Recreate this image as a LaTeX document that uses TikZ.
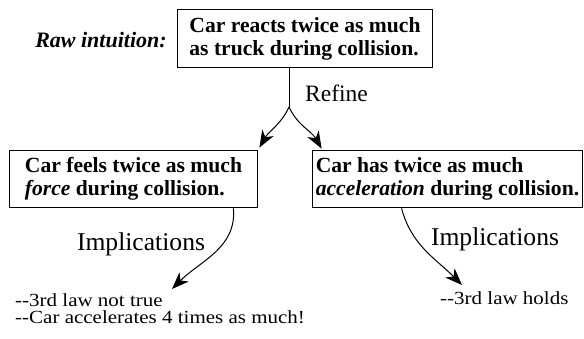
\documentclass[tikz,border=0pt]{standalone}
\usepackage{fontspec}
\setmainfont{Liberation Serif}
\newfontfamily\notefont[FakeStretch=1.135]{Liberation Serif}
\usetikzlibrary{arrows.meta}
\begin{document}
\begin{tikzpicture}[x=1pt,y=-1pt,
  box/.style={draw, line width=1.8pt, align=left, inner sep=0pt,
    font=\rmfamily\fontsize{21.6}{23}\selectfont\bfseries},
  rawlbl/.style={font=\rmfamily\fontsize{22}{24}\selectfont\bfseries\itshape, inner sep=0pt},
  biglbl/.style={font=\rmfamily\fontsize{25.6}{28}\selectfont, inner sep=0pt},
  reflbl/.style={font=\rmfamily\fontsize{23.5}{26}\selectfont, inner sep=0pt},
  note/.style={font=\notefont\fontsize{18.5}{17}\selectfont, inner sep=0pt, align=left},
  link/.style={line width=1pt},
  arr/.style={line width=1pt, -{Stealth[length=17pt,width=13pt,inset=5pt]}}
]
\useasboundingbox (0,0) rectangle (584,339);
\node[box, minimum width=255pt, minimum height=58pt] (top) at (305,38.5)
  {Car reacts twice as much\\as truck during collision.};
\node[rawlbl] (raw) at (101,40) {Raw intuition:};
\node[box, minimum width=248pt, minimum height=57pt] (left) at (133.5,179)
  {Car feels twice as much\\\textit{force} during collision.};
\node[box, minimum width=270pt, minimum height=57pt] (right) at (447.5,179)
  {Car has twice as much\\\textit{acceleration} during collision.};

\coordinate (split) at (289,107);
\draw[link] (top.south -| split) -- (split);
\node[reflbl, anchor=west] (refine) at (305,93) {Refine};
\draw[arr] (split) to[out=-115,in=60] ([xshift=1pt,yshift=2pt]left.north east);
\draw[arr] (split) to[out=-65,in=120] ([xshift=10pt,yshift=1pt]right.north west);

\node[biglbl] (impl1) at (141,244) {Implications};
\node[biglbl] (impl2) at (495,239) {Implications};
\node[note, anchor=west] (res1) at (15,308.5) {-{}-3rd law not true\\-{}-Car accelerates 4 times as much!};
\node[note, anchor=west] (res2) at (440,298) {-{}-3rd law holds};

\coordinate (tip1) at (172,289);
\coordinate (tip2) at (462,285);
\draw[arr] ([xshift=-25pt]left.south east) to[out=-85,in=45] (tip1);
\draw[arr] ([xshift=90pt]right.south west) to[out=-75,in=135] (tip2);
\end{tikzpicture}
\end{document}
